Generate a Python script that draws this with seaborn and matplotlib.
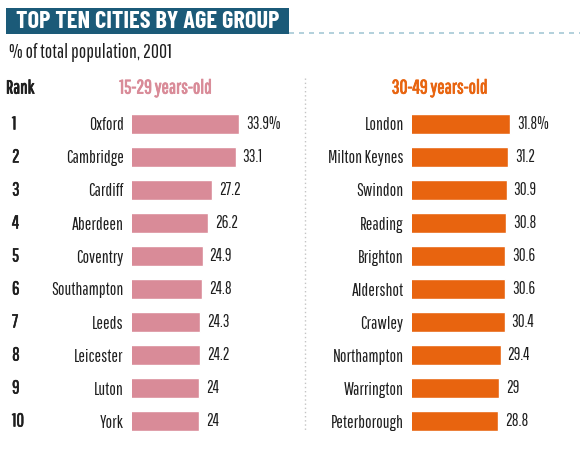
import matplotlib
matplotlib.use("Agg")
import matplotlib.pyplot as plt
import seaborn as sns
import pandas as pd
from matplotlib.patches import Rectangle
from matplotlib.lines import Line2D
from matplotlib import transforms
import matplotlib.patheffects as pe

ranks = [str(i) for i in range(1, 11)]
young_cities = ["Oxford", "Cambridge", "Cardiff", "Aberdeen", "Coventry",
                "Southampton", "Leeds", "Leicester", "Luton", "York"]
young_values = [33.9, 33.1, 27.2, 26.2, 24.9, 24.8, 24.3, 24.2, 24, 24]
mid_cities = ["London", "Milton Keynes", "Swindon", "Reading", "Brighton",
              "Aldershot", "Crawley", "Northampton", "Warrington", "Peterborough"]
mid_values = [31.8, 31.2, 30.9, 30.8, 30.6, 30.6, 30.4, 29.4, 29, 28.8]

title = "TOP TEN CITIES BY AGE GROUP"
subtitle = "% of total population, 2001"
young_label = "15-29 years-old"
mid_label = "30-49 years-old"

pink = "#d98b98"
orange = "#e8640f"
teal = "#1b5a78"
ink = "#1e1e1e"

sns.set_style("white")
plt.rcParams["font.family"] = ["Pathway Gothic One", "Barlow Condensed", "DejaVu Sans"]
title_font = ["Barlow Condensed", "DejaVu Sans"]

W, H = 580, 461
fig = plt.figure(figsize=(W / 100, H / 100), dpi=100)


def px(x, y):
    return x / W, 1 - y / H


def add_axes(x0, x1, y0, y1):
    return fig.add_axes([x0 / W, 1 - y1 / H, (x1 - x0) / W, (y1 - y0) / H])


def bold(color, lw=0.6):
    return [pe.withStroke(linewidth=lw, foreground=color)]


x_min, x_max = 7.4, 40
scale = 4.03
row_top, row_gap = 124, 33
y0 = row_top - row_gap / 2
y1 = y0 + row_gap * 10


def draw_panel(left, cities, values, color):
    ax = add_axes(left, left + (x_max - x_min) * scale, y0, y1)
    df = pd.DataFrame({"city": cities, "value": values})
    sns.barplot(data=df, x="value", y="city", color=color, width=0.6,
                saturation=1, ax=ax)
    ax.set_xlim(x_min, x_max)
    ax.set_ylim(9.5, -0.5)
    ax.set_xlabel("")
    ax.set_ylabel("")
    ax.set_xticks([])
    ax.tick_params(axis="y", length=0, pad=6, labelsize=12.5, labelcolor=ink)
    for s in ax.spines.values():
        s.set_visible(False)
    labels = [f"{v:g}%" if i == 0 else f"{v:g}" for i, v in enumerate(values)]
    ax.bar_label(ax.containers[0], labels=labels, padding=5, fontsize=12,
                 color=ink)
    return ax


ax_l = draw_panel(132, young_cities, young_values, pink)
ax_r = draw_panel(412, mid_cities, mid_values, orange)

# rank column
tr = transforms.blended_transform_factory(fig.transFigure, ax_l.transData)
for i, r in enumerate(ranks):
    fig.text(12 / W, i, r, transform=tr, ha="left", va="center",
             fontsize=13.5, color=ink, path_effects=bold(ink, 0.4))

# header box and dashed rule
fig.patches.append(Rectangle(px(6, 34), 283 / W, 26 / H, transform=fig.transFigure,
                             facecolor=teal, edgecolor="none"))
fig.text(*px(16, 21.5), title, color="white", fontsize=17.5, fontweight="bold",
         family=title_font, ha="left", va="center")
fig.lines.append(Line2D([289 / W, 1], [1 - 33 / H] * 2, transform=fig.transFigure,
                        color="#a6c8d6", lw=1.2, linestyle=(0, (3, 3))))

fig.text(*px(9, 53), subtitle, fontsize=14.2, color=ink, ha="left", va="center")
fig.text(*px(6, 88), "Rank", fontsize=13.5, color=ink, ha="left", va="center",
         path_effects=bold(ink))
fig.text(*px(166, 88), young_label, fontsize=14, color=pink, ha="center", va="center",
         path_effects=bold(pink))
fig.text(*px(440, 88), mid_label, fontsize=14, color=orange, ha="center", va="center",
         path_effects=bold(orange))

# vertical dotted separator
fig.lines.append(Line2D([305 / W] * 2, [1 - 78 / H, 1 - 432 / H], transform=fig.transFigure,
                        color="#c4c4c4", lw=1, linestyle=(0, (1, 2))))

fig.savefig("out.png", dpi=100)
